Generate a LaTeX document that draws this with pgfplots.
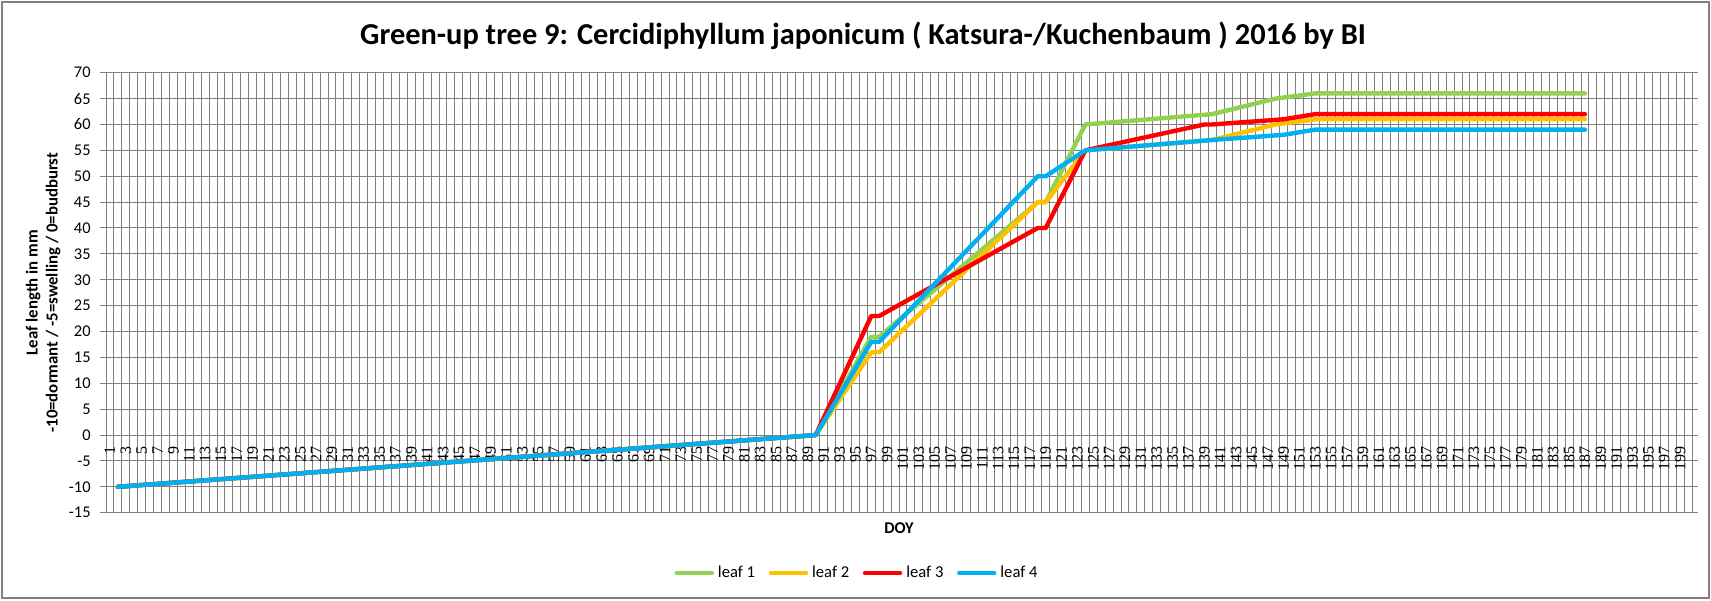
\documentclass[border=0pt]{standalone}
\usepackage{fontspec}
\setmainfont{Carlito}
\newfontfamily\serifticks{Liberation Serif}
\usepackage{pgfplots}
\pgfplotsset{compat=1.18}
\definecolor{gridgray}{RGB}{128,128,128}
\definecolor{leafgreen}{RGB}{146,208,80}
\definecolor{leafyellow}{RGB}{255,192,0}
\definecolor{leafred}{RGB}{255,0,0}
\definecolor{leafblue}{RGB}{0,176,240}
\begin{document}
\begin{tikzpicture}
\useasboundingbox (0pt,0pt) rectangle (855.5pt,300pt);
\draw[gridgray, line width=0.75pt] (0.9pt,0.9pt) rectangle (854.6pt,299.1pt);
\begin{axis}[
  at={(53pt,43.65pt)}, anchor=south west,
  width=793pt, height=220pt, scale only axis,
  xmin=0.5, xmax=200.5, ymin=-15, ymax=70,
  xtick={1,3,...,199},
  minor xtick={0.5,1.5,...,200.5},
  ytick={-15,-10,...,70},
  xminorgrids=true, xmajorgrids=false, ymajorgrids=true,
  grid style={draw=gridgray, line width=0.5pt},
  minor grid style={draw=gridgray, line width=0.5pt},
  axis line style={draw=gridgray, line width=0.5pt},
  tick align=outside,
  major tick length=3pt, minor tick length=0pt,
  xtick style={draw=none},
  ytick style={draw=gridgray, line width=0.5pt},
  /pgf/number format/assume math mode=true,
  xticklabel style={font=\serifticks\fontsize{8}{8}\selectfont, rotate=90, anchor=east, inner sep=0pt},
  xticklabel shift=-36.2pt,
  yticklabel style={font=\fontsize{8.2}{8.2}\selectfont, anchor=east, inner sep=0pt},
  yticklabel shift=4.5pt,
  title={Green-up tree 9: Cercidiphyllum japonicum ( Katsura-/Kuchenbaum ) 2016 by BI},
  every axis title/.style={at={(axis description cs:0.4773,1.0834)}, anchor=center, font=\bfseries\fontsize{15.2}{15.2}\selectfont},
  xlabel={DOY},
  every axis x label/.style={at={(axis description cs:0.5,-0.0348)}, anchor=center, font=\bfseries\fontsize{8.2}{8.2}\selectfont},
  ylabel={Leaf length in mm\\-10=dormant / -5=swelling / 0=budburst},
  every axis y label/.style={at={(axis description cs:-0.0397,0.5)}, rotate=90, anchor=center, align=center, font=\bfseries\fontsize{8.4}{10}\selectfont},
  legend columns=4,
  legend style={at={(axis description cs:0.4742,-0.137)}, anchor=center, draw=none, fill=none,
    font=\fontsize{8.3}{8.3}\selectfont,
    /tikz/every even column/.append style={column sep=4.8pt}},
  legend image code/.code={\draw[#1] (0pt,0pt) -- (17.5pt,0pt);},
  every axis plot/.append style={line width=2.2pt, line join=round, line cap=round},
  no markers,
]
\addplot[leafgreen] coordinates {(2,-10) (90,0) (97,19) (98,19) (118,45) (119,45) (124,60) (140,62) (148,65) (153,66) (187,66)};
\addlegendentry{leaf 1}
\addplot[leafyellow] coordinates {(2,-10) (90,0) (97,16) (98,16) (118,45) (119,45) (124,55) (140,57) (148,60) (153,61) (187,61)};
\addlegendentry{leaf 2}
\addplot[leafred] coordinates {(2,-10) (90,0) (97,23) (98,23) (118,40) (119,40) (124,55) (139,60) (140,60) (149,61) (153,62) (187,62)};
\addlegendentry{leaf 3}
\addplot[leafblue] coordinates {(2,-10) (90,0) (97,18) (98,18) (118,50) (119,50) (124,55) (140,57) (149,58) (153,59) (187,59)};
\addlegendentry{leaf 4}
\end{axis}
\end{tikzpicture}
\end{document}
